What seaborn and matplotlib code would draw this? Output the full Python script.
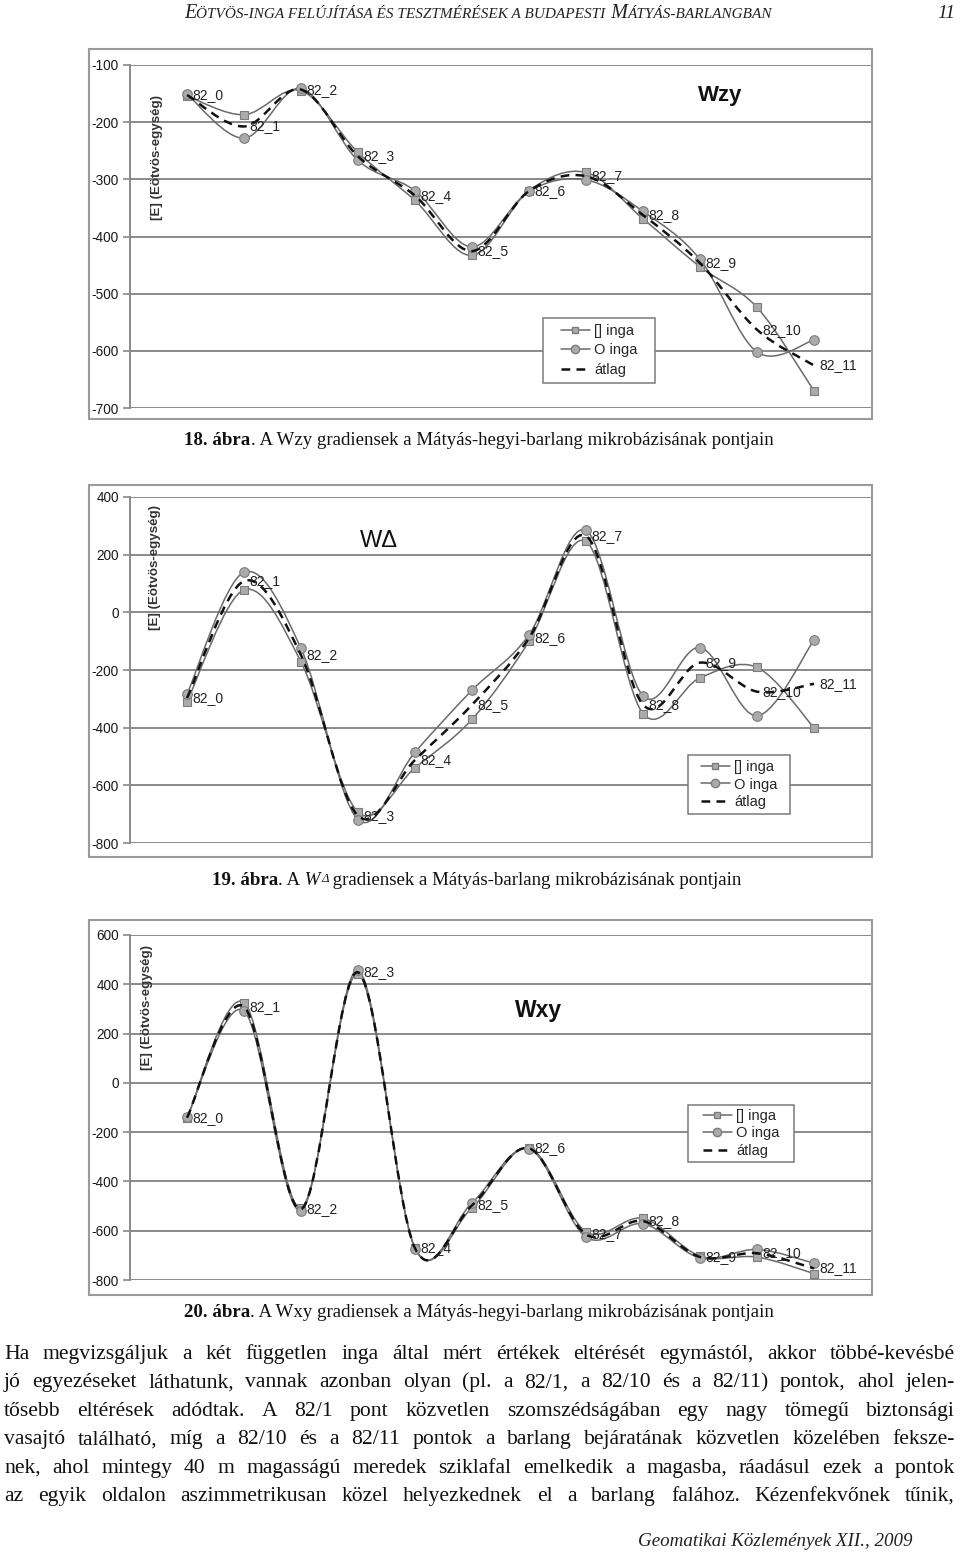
import numpy as np
import pandas as pd
import matplotlib
matplotlib.use('Agg')
import matplotlib.pyplot as plt
import seaborn as sns
from matplotlib.path import Path
from matplotlib.patches import PathPatch, Rectangle
from matplotlib.lines import Line2D
from matplotlib.transforms import IdentityTransform

# measuring points along the cave
points = ['82_0', '82_1', '82_2', '82_3', '82_4', '82_5',
          '82_6', '82_7', '82_8', '82_9', '82_10', '82_11']

# Wzy gradients [E]
wzy_square = [-154, -187, -145, -253, -337, -433, -320, -288, -369, -453, -524, -670]
wzy_circle = [-151, -228, -141, -267, -320, -418, -321, -301, -356, -440, -602, -581]

# W_delta gradients [E]
wd_square = [-310, 78, -172, -693, -539, -371, -101, 246, -351, -227, -191, -400]
wd_circle = [-284, 139, -125, -719, -485, -270, -78, 284, -290, -122, -359, -96]

# Wxy gradients [E]
wxy_square = [-143, 326, -507, 441, -669, -507, -264, -604, -550, -703, -707, -774]
wxy_circle = [-140, 292, -518, 456, -673, -487, -267, -626, -572, -710, -676, -732]

wzy_ticks = [-100, -200, -300, -400, -500, -600, -700]
wd_ticks = [400, 200, 0, -200, -400, -600, -800]
wxy_ticks = [600, 400, 200, 0, -200, -400, -600, -800]

legend_labels = ['[] inga', 'O inga', 'átlag']
ylabel = '[E] (Eötvös-egység)'

body_lines = [
    'Ha megvizsgáljuk a két független inga által mért értékek eltérését egymástól, akkor többé-kevésbé',
    'jó egyezéseket láthatunk, vannak azonban olyan (pl. a 82/1, a 82/10 és a 82/11) pontok, ahol jelen-',
    'tősebb eltérések adódtak. A 82/1 pont közvetlen szomszédságában egy nagy tömegű biztonsági',
    'vasajtó található, míg a 82/10 és a 82/11 pontok a barlang bejáratának közvetlen közelében feksze-',
    'nek, ahol mintegy 40 m magasságú meredek sziklafal emelkedik a magasba, ráadásul ezek a pontok',
    'az egyik oldalon aszimmetrikusan közel helyezkednek el a barlang falához. Kézenfekvőnek tűnik,',
]

GRID = '#8a8a8a'
LINE = '#6a6a6a'
MFILL = '#ababab'
MEDGE = '#7c7c7c'
SERIF = 'Liberation Serif'

sns.set_theme(style='white')
plt.rcParams['font.family'] = ['Liberation Sans', 'DejaVu Sans']
plt.rcParams['axes.unicode_minus'] = False

W, H = 960, 1556
fig = plt.figure(figsize=(W / 100, H / 100), dpi=100)
fig.patch.set_facecolor('white')
ident = IdentityTransform()
renderer = fig.canvas.get_renderer()


def smooth_path(x, y):
    # Excel-like smoothed line: cubic Bezier through every point
    x = np.asarray(x, float)
    y = np.asarray(y, float)
    n = len(x)
    verts = [(x[0], y[0])]
    codes = [Path.MOVETO]
    for i in range(n - 1):
        a = i - 1 if i > 0 else i
        d = i + 2 if i + 2 < n else i + 1
        c1 = (x[i] + (x[i + 1] - x[a]) / 6, y[i] + (y[i + 1] - y[a]) / 6)
        c2 = (x[i + 1] - (x[d] - x[i]) / 6, y[i + 1] - (y[d] - y[i]) / 6)
        verts += [c1, c2, (x[i + 1], y[i + 1])]
        codes += [Path.CURVE4] * 3
    return Path(verts, codes)


def frame(x0, y0, x1, y1):
    fig.add_artist(Rectangle((x0 / W, 1 - y1 / H), (x1 - x0) / W, (y1 - y0) / H,
                             transform=fig.transFigure, fill=False,
                             ec='#9a9a9a', lw=1.5, zorder=0))


def draw_chart(box, sq, ci, ticks, title, title_xy, title_kw, ylab_x, ylab_top,
               leg_box, leg_spacing):
    x0, y0, x1, y1 = box
    ax = fig.add_axes([x0 / W, 1 - y1 / H, (x1 - x0) / W, (y1 - y0) / H])
    ax.set_facecolor('white')
    pos = np.arange(len(points))
    avg = (np.array(sq, float) + np.array(ci, float)) / 2
    df = pd.DataFrame({'pos': pos, 'square': sq, 'circle': ci, 'avg': avg})

    for col in ['square', 'circle']:
        ax.add_patch(PathPatch(smooth_path(df['pos'], df[col]), fill=False,
                               ec=LINE, lw=1.1, zorder=3))
    sns.scatterplot(data=df, x='pos', y='square', marker='s', s=34, color=MFILL,
                    edgecolor=MEDGE, linewidth=0.8, ax=ax, zorder=4)
    sns.scatterplot(data=df, x='pos', y='circle', marker='o', s=48, color=MFILL,
                    edgecolor=MEDGE, linewidth=0.8, ax=ax, zorder=4)
    ax.add_patch(PathPatch(smooth_path(df['pos'], df['avg']), fill=False,
                           ec='#111111', lw=1.8, ls=(0, (3.5, 2.5)), zorder=5))
    for xi, yi, name in zip(df['pos'], df['avg'], points):
        ax.annotate(name, (xi, yi), xytext=(4, 0), textcoords='offset points',
                    ha='left', va='center', fontsize=10, color='#222222', zorder=6)

    ax.set_xlim(-1, 12)
    ax.set_ylim(min(ticks), max(ticks))
    ax.set_yticks(ticks)
    ax.set_xticks([])
    ax.set_xlabel('')
    ax.set_ylabel('')
    ax.grid(axis='y', color=GRID, lw=1.4)
    ax.set_axisbelow(True)
    ax.tick_params(axis='y', left=True, length=5, width=1.2, color=GRID, pad=3,
                   labelsize=9.8, labelcolor='#1a1a1a')
    for s in ['top', 'right', 'bottom']:
        ax.spines[s].set_visible(False)
    ax.spines['left'].set_color(GRID)
    ax.spines['left'].set_linewidth(1.4)

    ax.text((ylab_x - x0) / (x1 - x0), 1 - (ylab_top - y0) / (y1 - y0), ylabel,
            rotation=90, ha='center', va='top', transform=ax.transAxes,
            fontsize=9.6, fontweight='bold', color='#333333')
    fig.text(title_xy[0] / W, 1 - title_xy[1] / H, title, ha='center', va='center',
             color='#111111', **title_kw)

    # legend box
    lx0, ly0, lx1, ly1 = leg_box
    ax.add_patch(Rectangle((lx0 / W, 1 - ly1 / H), (lx1 - lx0) / W, (ly1 - ly0) / H,
                           transform=fig.transFigure, fc='white', ec='#7a7a7a',
                           lw=1.1, zorder=7))
    handles = [
        Line2D([], [], color=LINE, lw=1.1, marker='s', ms=5, mfc=MFILL, mec=MEDGE),
        Line2D([], [], color=LINE, lw=1.1, marker='o', ms=6, mfc=MFILL, mec=MEDGE),
        Line2D([], [], color='#111111', lw=1.8, ls=(0, (3.5, 2.5))),
    ]
    leg = ax.legend(handles, legend_labels, loc='center',
                    bbox_to_anchor=((lx0 + lx1) / 2 / W, 1 - (ly0 + ly1) / 2 / H),
                    bbox_transform=fig.transFigure, frameon=False, fontsize=10.5,
                    handlelength=2.0, handletextpad=0.3, labelspacing=leg_spacing,
                    borderpad=0, borderaxespad=0)
    leg.set_zorder(8)
    return ax


def place_runs(runs, y, center=None, left=None, right=None):
    objs = []
    for s, kw, dy in runs:
        t = fig.text(0, 0, s, transform=ident, ha='left', va='baseline', **kw)
        objs.append((t, dy))
    widths = [t.get_window_extent(renderer).width for t, _ in objs]
    total = sum(widths)
    if center is not None:
        x = center - total / 2
    elif right is not None:
        x = right - total
    else:
        x = left
    for (t, dy), w in zip(objs, widths):
        t.set_position((x, H - y - dy))
        x += w


def justified(line, y, x0=4, x1=955, size=15.6):
    words = line.split(' ')
    objs = [fig.text(0, 0, w, transform=ident, ha='left', va='baseline',
                     family=SERIF, fontsize=size, color='#111111') for w in words]
    ws = [o.get_window_extent(renderer).width for o in objs]
    gap = (x1 - x0 - sum(ws)) / (len(words) - 1)
    x = x0
    for o, w in zip(objs, ws):
        o.set_position((x, H - y))
        x += w + gap


# charts
frame(89, 49, 872, 419)
draw_chart((130, 65, 871, 408), wzy_square, wzy_circle, wzy_ticks, 'Wzy', (720, 96),
           dict(fontsize=16, fontweight='bold'), 157, 95, (543, 318, 655, 383), 0.4)

frame(89, 485, 872, 857)
draw_chart((130, 497, 871, 843), wd_square, wd_circle, wd_ticks, 'WΔ', (379, 541),
           dict(fontsize=17), 155, 505, (688, 755, 790, 814), 0.22)

frame(89, 920, 872, 1295)
draw_chart((130, 935, 871, 1280), wxy_square, wxy_circle, wxy_ticks, 'Wxy', (539, 1010),
           dict(fontsize=16.5, fontweight='bold'), 147, 945, (688, 1105, 794, 1162), 0.22)

# captions
CAP = 13.6
reg = dict(family=SERIF, fontsize=CAP, color='#111111')
bold = dict(family=SERIF, fontsize=CAP, fontweight='bold', color='#111111')
ital = dict(family=SERIF, fontsize=CAP, style='italic', color='#111111')
sub = dict(family=SERIF, fontsize=9.2, style='italic', color='#111111')

place_runs([('18. ábra', bold, 0),
            ('. A Wzy gradiensek a Mátyás-hegyi-barlang mikrobázisának pontjain', reg, 0)],
           445, center=479)
place_runs([('19. ábra', bold, 0), ('. A', reg, 0), (' W', ital, 0), ('Δ', sub, -3),
            (' gradiensek a Mátyás-barlang mikrobázisának pontjain', reg, 0)],
           885, center=477)
place_runs([('20. ábra', bold, 0),
            ('. A Wxy gradiensek a Mátyás-hegyi-barlang mikrobázisának pontjain', reg, 0)],
           1317, center=479)

# running header
big = dict(family=SERIF, fontsize=14.6, style='italic', color='#222222')
small = dict(family=SERIF, fontsize=11.0, style='italic', color='#222222')
place_runs([('E', big, 0), ('ÖTVÖS-INGA FELÚJÍTÁSA ÉS TESZTMÉRÉSEK A BUDAPESTI', small, 0),
            (' M', big, 0), ('ÁTYÁS-BARLANGBAN', small, 0)], 18, center=478)
place_runs([('11', dict(family=SERIF, fontsize=14, style='italic', color='#222222'), 0)],
           18, right=955)

# body text
for i, line in enumerate(body_lines):
    justified(line, 1359 + i * 28.4)

place_runs([('Geomatikai Közlemények XII., 2009',
             dict(family=SERIF, fontsize=13.7, style='italic', color='#222222'), 0)],
           1546, right=913)

fig.savefig('out.png', dpi=100)
